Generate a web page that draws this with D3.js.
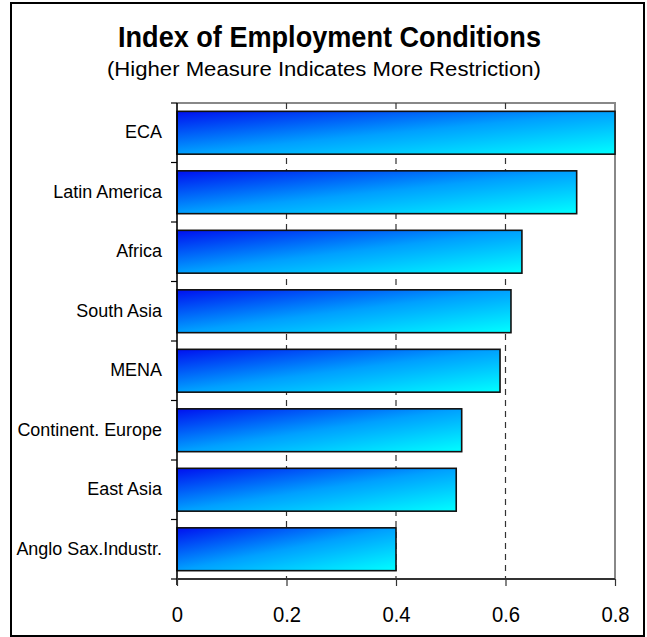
<!DOCTYPE html>
<html>
<head>
<meta charset="utf-8">
<script src="https://cdn.jsdelivr.net/npm/d3@7"></script>
<style>
  html, body { margin: 0; padding: 0; background: #fff; }
  svg { display: block; font-family: "Liberation Sans", Arial, sans-serif; }
</style>
</head>
<body>
<svg id="chart" width="647" height="637"></svg>
<script>
// Regions, top to bottom, and their index values
const categories = ["ECA", "Latin America", "Africa", "South Asia", "MENA",
                    "Continent. Europe", "East Asia", "Anglo Sax.Industr."];
const values = [0.80, 0.73, 0.63, 0.61, 0.59, 0.52, 0.51, 0.40];
const xTicks = [0, 0.2, 0.4, 0.6, 0.8];
const gridTicks = [0.2, 0.4, 0.6];
const titleText = "Index of Employment Conditions";
const subtitleText = "(Higher Measure Indicates More Restriction)";

const svg = d3.select("#chart");
const plot = { left: 177, right: 615, top: 103, bottom: 579 };

// Outer frame
svg.append("rect")
  .attr("x", 11).attr("y", 3)
  .attr("width", 633).attr("height", 633)
  .attr("fill", "#fff").attr("stroke", "#000").attr("stroke-width", 2);

// Titles
svg.append("text")
  .attr("x", 329.5).attr("y", 47)
  .attr("text-anchor", "middle")
  .attr("font-size", 29).attr("font-weight", "bold")
  .attr("textLength", 423).attr("lengthAdjust", "spacingAndGlyphs")
  .text(titleText);
svg.append("text")
  .attr("x", 324).attr("y", 76)
  .attr("text-anchor", "middle")
  .attr("font-size", 20.5)
  .attr("textLength", 434).attr("lengthAdjust", "spacingAndGlyphs")
  .text(subtitleText);

const x = d3.scaleLinear().domain([0, 0.8]).range([plot.left, plot.right]);
const y = d3.scaleBand().domain(categories).range([plot.top, plot.bottom])
  .paddingInner(0.28).paddingOuter(0.14);

// Bar gradient: deep blue at top-left fading to cyan at bottom-right
const defs = svg.append("defs");
const grad = defs.append("linearGradient").attr("id", "barFill")
  .attr("x1", 0).attr("y1", 0).attr("x2", 1).attr("y2", 1);
grad.append("stop").attr("offset", "0%").attr("stop-color", "#0010f0");
grad.append("stop").attr("offset", "50%").attr("stop-color", "#00a0ff");
grad.append("stop").attr("offset", "100%").attr("stop-color", "#00ffff");

// Plot border (top and right in grey)
svg.append("path")
  .attr("d", `M${plot.left},${plot.top}H${plot.right}V${plot.bottom}`)
  .attr("fill", "none").attr("stroke", "#888").attr("stroke-width", 2);

// Dashed vertical gridlines
svg.append("g").selectAll("line").data(gridTicks).join("line")
  .attr("x1", d => x(d)).attr("x2", d => x(d))
  .attr("y1", plot.top).attr("y2", plot.bottom)
  .attr("stroke", "#333").attr("stroke-width", 1.2)
  .attr("stroke-dasharray", "6,5");

// Bars
svg.append("g").selectAll("rect").data(values).join("rect")
  .attr("x", x(0))
  .attr("y", (d, i) => y(categories[i]))
  .attr("width", d => x(d) - x(0))
  .attr("height", y.bandwidth())
  .attr("fill", "url(#barFill)")
  .attr("stroke", "#111").attr("stroke-width", 1.6);

// Category axis: ticks sit on the band boundaries
const yAxisG = svg.append("g");
yAxisG.append("line")
  .attr("x1", plot.left).attr("x2", plot.left)
  .attr("y1", plot.top).attr("y2", plot.bottom + 6)
  .attr("stroke", "#000").attr("stroke-width", 1.6);
const bandEdge = i => plot.top + i * (plot.bottom - plot.top) / categories.length;
yAxisG.selectAll("line.tick").data(d3.range(categories.length + 1)).join("line")
  .attr("class", "tick")
  .attr("x1", plot.left - 6).attr("x2", plot.left)
  .attr("y1", bandEdge).attr("y2", bandEdge)
  .attr("stroke", "#000").attr("stroke-width", 1.2);
yAxisG.selectAll("text").data(categories).join("text")
  .attr("transform", d => `translate(162,${y(d) + y.bandwidth() / 2 - 1}) scale(0.97,1)`)
  .attr("dy", "0.35em")
  .attr("text-anchor", "end")
  .attr("font-size", 18.5)
  .text(d => d);

// Value axis
const xAxis = d3.axisBottom(x).tickValues(xTicks).tickSize(7).tickPadding(0)
  .tickFormat(d => d === 0 ? "0" : d3.format(".1f")(d));
const xAxisG = svg.append("g")
  .attr("transform", `translate(0,${plot.bottom})`)
  .call(xAxis);
xAxisG.select(".domain").attr("stroke", "#333").attr("stroke-width", 2.2)
  .attr("d", `M${plot.left},0H${plot.right}`);
xAxisG.selectAll(".tick line").attr("stroke", "#333").attr("stroke-width", 1.2);
xAxisG.selectAll(".tick text")
  .attr("y", null).attr("dy", null)
  .attr("transform", "translate(0,43) scale(0.9,1)")
  .attr("font-size", 22.5)
  .attr("font-family", "'Liberation Sans', Arial, sans-serif")
  .attr("fill", "#000");
</script>
</body>
</html>
